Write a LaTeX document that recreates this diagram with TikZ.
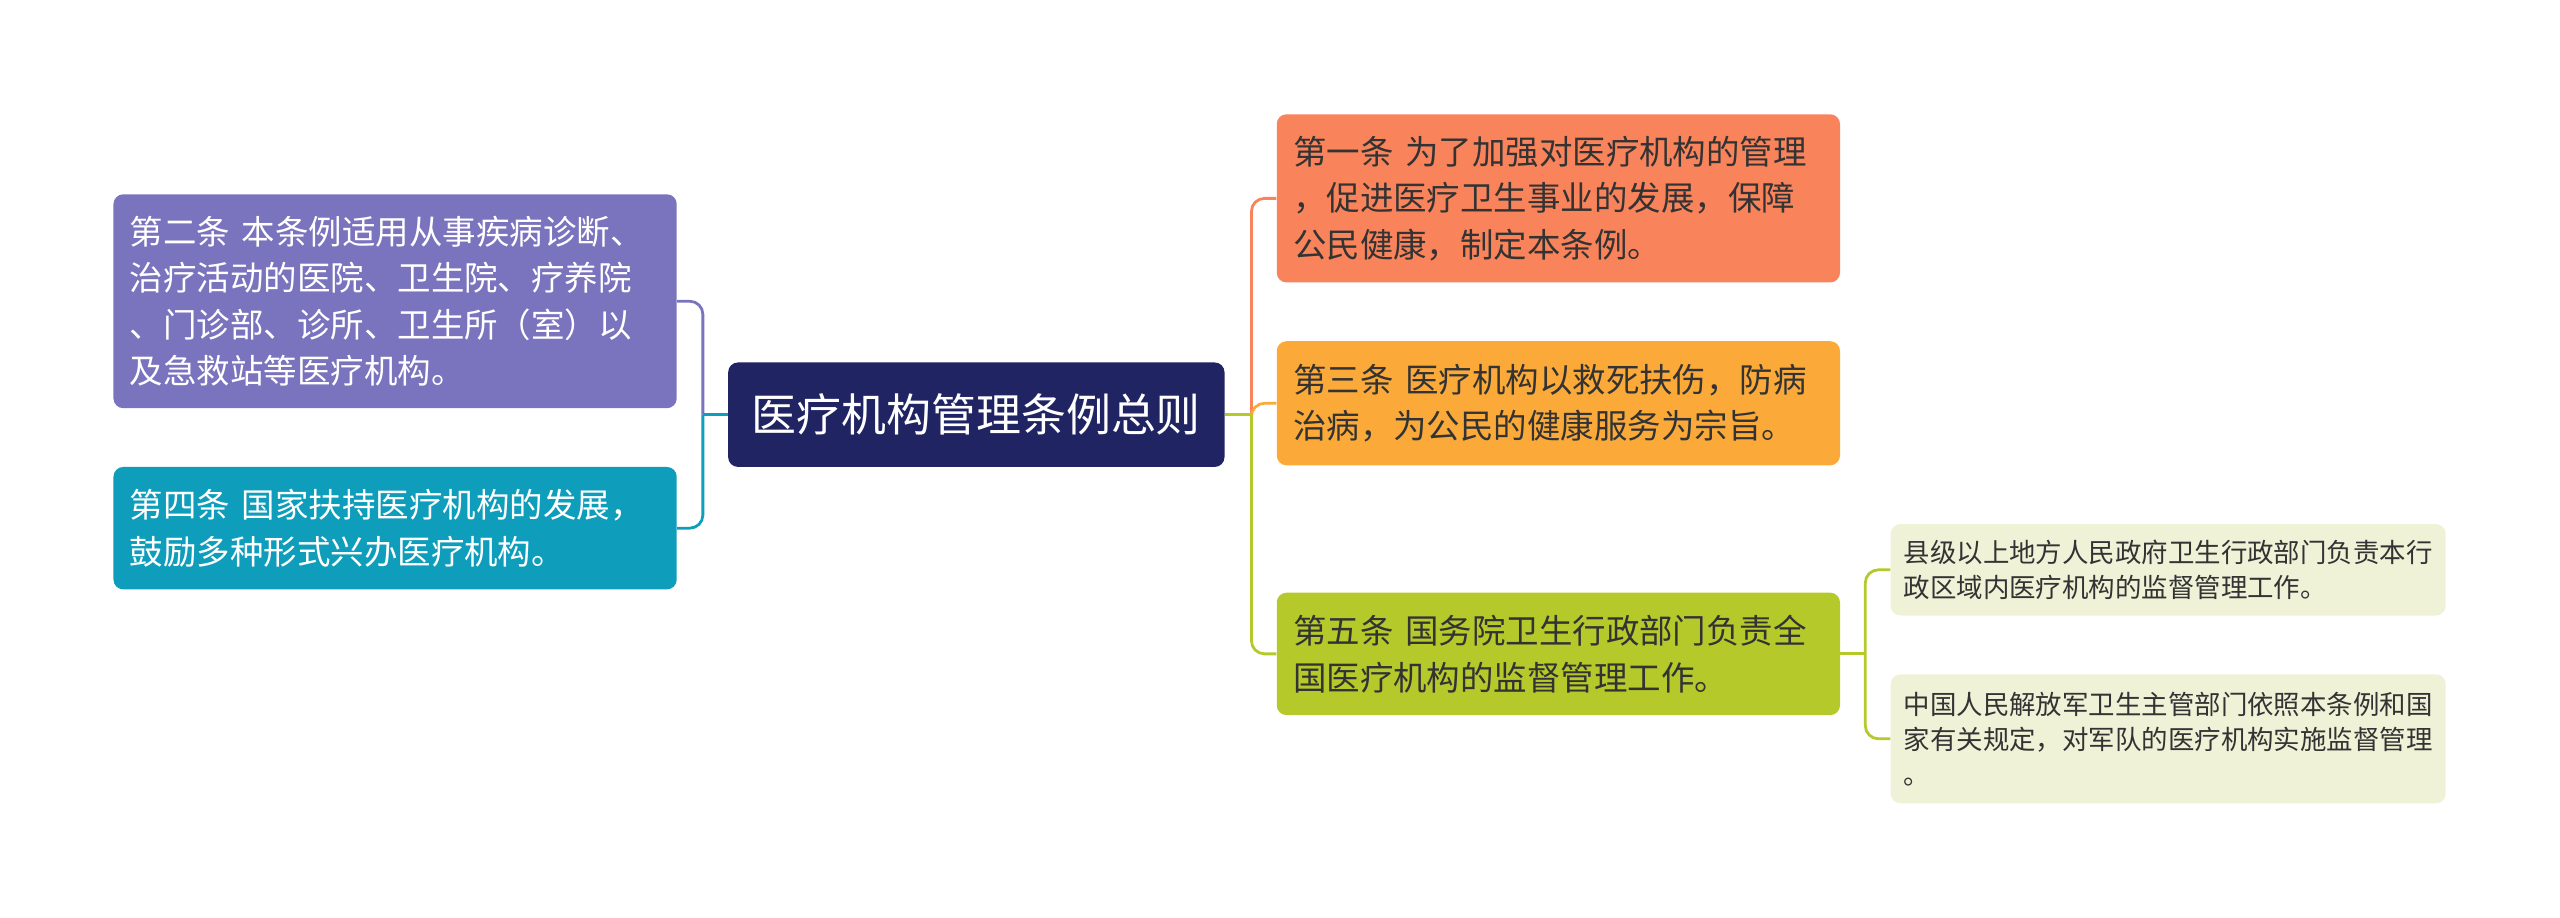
\documentclass[tikz,border=0pt]{standalone}
\usepackage{fontspec}
\setmainfont{Noto Sans CJK SC}
\definecolor{zongze}{HTML}{212463}
\definecolor{tiaoer}{HTML}{7A74BE}
\definecolor{tiaosi}{HTML}{0E9DBA}
\definecolor{tiaoyi}{HTML}{F9835A}
\definecolor{tiaosan}{HTML}{FBAA3A}
\definecolor{tiaowu}{HTML}{B5C92B}
\definecolor{xiaodi}{HTML}{EFF2D6}
\definecolor{shenzi}{HTML}{333333}
\tikzset{
  tiao/.style={rounded corners=6pt, inner xsep=10pt, inner ysep=0pt,
    text width=325pt, align=left, minimum height=#1,
    font=\fontsize{20.5}{28.5}\selectfont},
  xiao/.style={rounded corners=6pt, fill=xiaodi, text=shenzi, inner xsep=8pt,
    inner ysep=0pt, text width=324pt, align=left, minimum height=#1,
    font=\fontsize{16.2}{21.5}\selectfont},
  lian/.style={line width=1.7pt, rounded corners=8pt},
  gan/.style={line width=1.7pt},
}

\begin{document}
\begin{tikzpicture}[x=1pt,y=-1pt]
   \useasboundingbox (0,0) rectangle (1568,562);
   \node[fill=zongze, text=white, rounded corners=6pt, inner sep=0pt,
     minimum width=304pt, minimum height=64pt,
     font=\fontsize{27.5}{32}\selectfont] (zong) at (598,254) {医疗机构管理条例总则};
   \node[tiao=131pt, fill=tiaoer, text=white] (t2) at (242,184.5)
     {第二条\kern.35em本条例适用从事疾病诊断、\\治疗活动的医院、卫生院、疗养院\\、门诊部、诊所、卫生所（室）以\\及急救站等医疗机构。};
   \node[tiao=75pt, fill=tiaosi, text=white] (t4) at (242,323.5)
     {第四条\kern.35em国家扶持医疗机构的发展，\\鼓励多种形式兴办医疗机构。};
   \node[tiao=103pt, fill=tiaoyi, text=shenzi] (t1) at (954.5,121.5)
     {第一条\kern.35em为了加强对医疗机构的管理\\，促进医疗卫生事业的发展，保障\\公民健康，制定本条例。};
   \node[tiao=76pt, fill=tiaosan, text=shenzi] (t3) at (954.5,247)
     {第三条\kern.35em医疗机构以救死扶伤，防病\\治病，为公民的健康服务为宗旨。};
   \node[tiao=75pt, fill=tiaowu, text=shenzi] (t5) at (954.5,400.5)
     {第五条\kern.35em国务院卫生行政部门负责全\\国医疗机构的监督管理工作。};
   \node[xiao=56pt] (x1) at (1328,349)
     {县级以上地方人民政府卫生行政部门负责本行\\政区域内医疗机构的监督管理工作。};
   \node[xiao=79pt] (x2) at (1328,452.5)
     {中国人民解放军卫生主管部门依照本条例和国\\家有关规定，对军队的医疗机构实施监督管理\\。};
   \coordinate (zuo) at (430.5,254);
   \coordinate (you) at (766.5,254);
   \coordinate (wu) at (1142.5,400.5);
   % left side
   \draw[lian, tiaoer] (zuo) |- (t2.east);
   \draw[lian, tiaosi] (zuo) |- (t4.east);
   \draw[gan, tiaosi] (zong.west) -- (zuo);
   % right side
   \draw[lian, tiaoyi] (you) |- (t1.west);
   \draw[lian, tiaosan] (you) |- (t3.west);
   \draw[lian, tiaowu] (you) |- (t5.west);
   \draw[gan, tiaowu] (zong.east) -- (you);
   \draw[lian, tiaowu] (wu) |- (x1.west);
   \draw[lian, tiaowu] (wu) |- (x2.west);
   \draw[gan, tiaowu] (t5.east) -- (wu);
\end{tikzpicture}
\end{document}
